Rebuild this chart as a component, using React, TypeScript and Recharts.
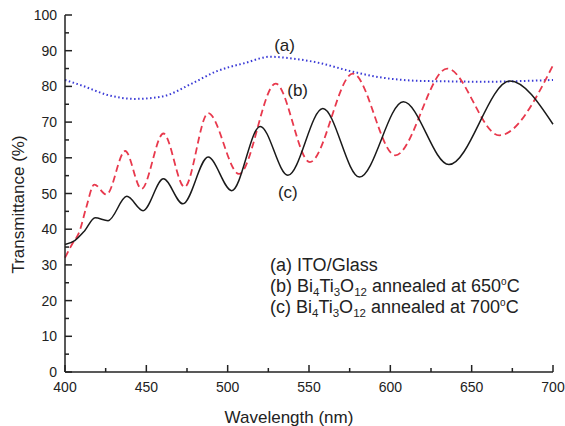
import { LineChart, Line, XAxis, YAxis, ReferenceDot } from "recharts";

// wavelength (nm) / transmittance (%)
const waveA = [400, 410, 427, 443, 460, 478, 493, 511, 526, 538, 555, 577, 593, 615, 637, 659, 681, 700];
const transA = [81.8, 80.3, 77.5, 76.5, 77.2, 80.8, 84.2, 86.6, 88.3, 87.9, 86.7, 84.1, 82.6, 81.6, 81.4, 81.3, 81.5, 81.8];

const waveB = [400, 404, 409, 413, 418, 425.5, 437, 447, 460.5, 473.5, 488, 507, 529.5, 550.5, 577, 603, 635, 667, 700];
const transB = [32, 35.5, 39.5, 46, 52.5, 49.7, 61.9, 51.3, 66.8, 51.8, 72.5, 55.5, 80.8, 58.8, 83.6, 60.7, 85, 66.3, 85.9];

const waveC = [400, 406, 412, 418.5, 426.5, 438, 448, 460.5, 472.5, 488, 502.5, 520, 537, 558.5, 581, 608, 636, 673.5, 700];
const transC = [35.7, 36.8, 39.5, 43.2, 42.4, 49.2, 45.2, 54.1, 47.1, 60.2, 50.8, 68.8, 55.1, 73.8, 54.6, 75.7, 58.1, 81.5, 69.4];

const xTicks = [400, 425, 450, 475, 500, 525, 550, 575, 600, 625, 650, 675, 700];
const yTicks = [0, 5, 10, 15, 20, 25, 30, 35, 40, 45, 50, 55, 60, 65, 70, 75, 80, 85, 90, 95, 100];

const toPoints = (xs: number[], ys: number[]) => xs.map((x, i) => ({ x, y: ys[i] }));
const dataA = toPoints(waveA, transA);
const dataB = toPoints(waveB, transB);
const dataC = toPoints(waveC, transC);

const FONT = "'Liberation Sans', Arial, Helvetica, sans-serif";
const INK = "#222";

const XTick = (props: any) => {
  const { x, y, payload } = props;
  const major = payload.value % 50 === 0;
  return (
    <g>
      <line x1={x} y1={y} x2={x} y2={y - (major ? 7 : 4)} stroke={INK} strokeWidth={1.5} />
      {major && (
        <text x={x} y={y + 20} textAnchor="middle" fontSize={14} fontFamily={FONT} fill={INK}>
          {payload.value}
        </text>
      )}
    </g>
  );
};

const YTick = (props: any) => {
  const { x, y, payload } = props;
  const major = payload.value % 10 === 0;
  return (
    <g>
      <line x1={x} y1={y} x2={x + (major ? 7 : 4)} y2={y} stroke={INK} strokeWidth={1.5} />
      {major && (
        <text x={x - 8} y={y + 5} textAnchor="end" fontSize={14} fontFamily={FONT} fill={INK}>
          {payload.value}
        </text>
      )}
    </g>
  );
};

const tag = (txt: string) => (p: any) => (
  <text x={p.cx} y={p.cy + 6} textAnchor="middle" fontSize={17} fontFamily={FONT} fill={INK}>
    {txt}
  </text>
);

const plain = (txt: string) => (p: any) => (
  <text x={p.cx} y={p.cy + 6} fontSize={18} fontFamily={FONT} fill={INK}>
    {txt}
  </text>
);

const bto = (prefix: string, temp: string) => (p: any) => (
  <text x={p.cx} y={p.cy + 6} fontSize={18} fontFamily={FONT} fill={INK}>
    {prefix} Bi
    <tspan fontSize={11.5} dy={4}>4</tspan>
    <tspan dy={-4}>Ti</tspan>
    <tspan fontSize={11.5} dy={4}>3</tspan>
    <tspan dy={-4}>O</tspan>
    <tspan fontSize={11.5} dy={4}>12</tspan>
    <tspan dy={-4}> annealed at {temp}</tspan>
    <tspan fontSize={10} dy={-7}>o</tspan>
    <tspan dy={7}>C</tspan>
  </text>
);

export default function App() {
  return (
    <div style={{ width: 565, height: 426, background: "#fff" }}>
      <style>{"body{margin:0}"}</style>
      <LineChart width={565} height={426} margin={{ top: 15, right: 12, bottom: 0, left: 0 }}>
        <XAxis
          dataKey="x"
          type="number"
          domain={[400, 700]}
          ticks={xTicks}
          interval={0}
          tickSize={0}
          tickMargin={0}
          tickLine={false}
          tick={<XTick />}
          height={54}
          axisLine={{ stroke: INK, strokeWidth: 1.5 }}
          label={{
            content: (p: any) => {
              const vb = p.viewBox;
              return (
                <text x={vb.x + vb.width / 2 - 20} y={vb.y + 51} textAnchor="middle" fontSize={17} fontFamily={FONT} fill={INK}>
                  Wavelength (nm)
                </text>
              );
            },
          }}
        />
        <XAxis xAxisId="top" orientation="top" type="number" domain={[400, 700]} height={0} tick={false} tickLine={false} axisLine={{ stroke: INK, strokeWidth: 1.5 }} />
        <YAxis
          type="number"
          domain={[0, 100]}
          ticks={yTicks}
          interval={0}
          tickSize={0}
          tickMargin={0}
          tickLine={false}
          tick={<YTick />}
          width={65}
          axisLine={{ stroke: INK, strokeWidth: 1.5 }}
          label={{
            content: (p: any) => {
              const vb = p.viewBox;
              const cx = vb.x + 18;
              const cy = vb.y + vb.height / 2 + 11;
              return (
                <text x={cx} y={cy} transform={`rotate(-90 ${cx} ${cy})`} textAnchor="middle" dominantBaseline="central" fontSize={17} fontFamily={FONT} fill={INK}>
                  Transmittance (%)
                </text>
              );
            },
          }}
        />
        <YAxis yAxisId="right" orientation="right" type="number" domain={[0, 100]} width={0} tick={false} tickLine={false} axisLine={{ stroke: INK, strokeWidth: 1.5 }} />

        <Line data={dataA} dataKey="y" type="monotone" stroke="#3a3ad6" strokeWidth={2} strokeDasharray="1.5 2.5" dot={false} isAnimationActive={false} />
        <Line data={dataB} dataKey="y" type="monotone" stroke="#e8394d" strokeWidth={1.8} strokeDasharray="7 4" dot={false} isAnimationActive={false} />
        <Line data={dataC} dataKey="y" type="monotone" stroke="#1a1a1a" strokeWidth={1.5} dot={false} isAnimationActive={false} />

        <ReferenceDot x={535} y={91.5} r={0} shape={tag("(a)")} />
        <ReferenceDot x={543} y={78.9} r={0} shape={tag("(b)")} />
        <ReferenceDot x={537} y={50.4} r={0} shape={tag("(c)")} />
        <ReferenceDot x={526} y={30.1} r={0} shape={plain("(a) ITO/Glass")} />
        <ReferenceDot x={526} y={24.2} r={0} shape={bto("(b)", "650")} />
        <ReferenceDot x={526} y={18.1} r={0} shape={bto("(c)", "700")} />
      </LineChart>
    </div>
  );
}
